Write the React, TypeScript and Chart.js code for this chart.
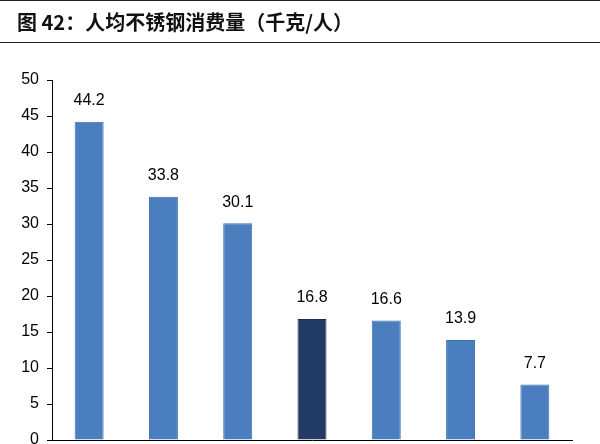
import React, { useEffect, useRef } from "react";
import { Chart, registerables } from "chart.js";

Chart.register(...registerables);

const categories = ["台湾", "韩国", "意大利", "中国", "日本", "德国", "美国"];
const values = [44.2, 33.8, 30.1, 16.8, 16.6, 13.9, 7.7];
const highlightIndex = 3;
const yTicks = { min: 0, max: 50, step: 5 };
const title = "图 42：人均不锈钢消费量（千克/人）";

const LIGHT = "#4A7EBE";
const LIGHT_BORDER = "#3F70AE";
const DARK = "#213A66";
const DARK_BORDER = "#1A2F55";

const valueLabels = {
  id: "valueLabels",
  afterDatasetsDraw(chart: any) {
    const ctx = chart.ctx;
    const meta = chart.getDatasetMeta(0);
    ctx.save();
    ctx.font = "16px 'Liberation Sans', Arial, sans-serif";
    ctx.fillStyle = "#000";
    ctx.textAlign = "center";
    ctx.textBaseline = "bottom";
    meta.data.forEach((el: any, i: number) => {
      const v = chart.data.datasets[0].data[i];
      ctx.fillText(Number(v).toFixed(1), el.x, el.y - 13);
    });
    ctx.restore();
  },
};

export default function App() {
  const ref = useRef<HTMLCanvasElement | null>(null);
  useEffect(() => {
    if (!ref.current) return;
    const chart = new Chart(ref.current, {
      type: "bar",
      data: {
        labels: categories,
        datasets: [
          {
            data: values,
            backgroundColor: values.map((_, i) => (i === highlightIndex ? DARK : LIGHT)),
            borderColor: values.map((_, i) => (i === highlightIndex ? DARK_BORDER : LIGHT_BORDER)),
            borderWidth: 1,
            barPercentage: 0.39,
            categoryPercentage: 1,
          },
        ],
      },
      options: {
        animation: false,
        responsive: false,
        maintainAspectRatio: false,
        layout: { padding: { top: 80, right: 28, left: 0, bottom: 0 } },
        plugins: { legend: { display: false }, tooltip: { enabled: false } },
        scales: {
          x: {
            grid: { display: false },
            border: { display: true, color: "#000", width: 1 },
            ticks: { color: "#000", font: { size: 16, family: "'Liberation Sans', Arial, sans-serif" } },
            afterFit(scale: any) {
              scale.height = 60;
            },
          },
          y: {
            min: yTicks.min,
            max: yTicks.max,
            ticks: {
              stepSize: yTicks.step,
              color: "#000",
              padding: 8,
              font: { size: 16, family: "'Liberation Sans', Arial, sans-serif" },
            },
            grid: { display: true, drawOnChartArea: false, drawTicks: true, tickLength: 5, color: "#000" },
            border: { display: true, color: "#000", width: 1 },
            afterFit(scale: any) {
              scale.width = 52;
            },
          },
        },
      },
      plugins: [valueLabels],
    });
    return () => chart.destroy();
  }, []);

  return (
    <div
      style={{
        position: "fixed",
        top: 0,
        left: 0,
        width: 600,
        height: 444,
        overflow: "hidden",
        background: "#fff",
      }}
    >
      <canvas ref={ref} width={600} height={500} style={{ position: "absolute", top: 0, left: 0, width: 600, height: 500 }} />
      <div style={{ position: "absolute", top: 0, left: 0, width: 600, height: 1, background: "#222" }} />
      <div
        style={{
          position: "absolute",
          top: 8,
          left: 17,
          fontFamily: "'Noto Sans CJK SC', sans-serif",
          fontWeight: 700,
          fontSize: 20,
          lineHeight: "28px",
          color: "#111",
          whiteSpace: "nowrap",
        }}
      >
        {title}
      </div>
      <div style={{ position: "absolute", top: 42, left: 0, width: 600, height: 1, background: "#222" }} />
    </div>
  );
}
